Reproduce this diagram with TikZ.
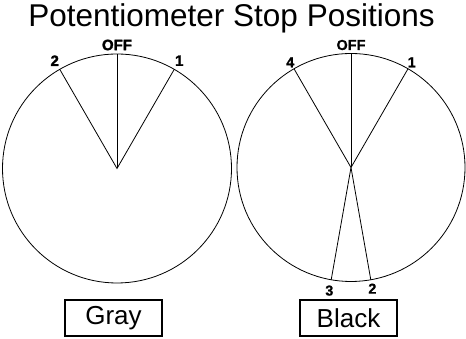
\documentclass[tikz,border=0pt]{standalone}
\usepackage{fontspec}
\setmainfont{Liberation Sans}
\newfontfamily\heavyfont{Liberation Sans Bold}[FakeBold=1.5]
\newfontfamily\semiheavyfont{Liberation Sans Bold}[FakeBold=0.6]
\begin{document}
\begin{tikzpicture}[x=1pt, y=1pt, line width=0.8pt,
    every node/.style={inner sep=0pt},
    stoplabel/.style={font=\fontsize{15}{17}\heavyfont},
    stoplabelb/.style={font=\fontsize{14.5}{17}\semiheavyfont},
    knobname/.style={draw, line width=2pt, minimum width=97pt, minimum height=36pt, font=\fontsize{26}{30}\selectfont}]
        \useasboundingbox (0,0) rectangle (466,339);
        \coordinate (c1) at (117,170.5);
        \coordinate (c2) at (351,171.5);
        \coordinate (g1) at ([shift={(60:114.5)}]c1);
        \coordinate (g0) at ([shift={(90:114.5)}]c1);
        \coordinate (g2) at ([shift={(120:114.5)}]c1);
        \coordinate (b1) at ([shift={(60:114)}]c2);
        \coordinate (b0) at ([shift={(90:114)}]c2);
        \coordinate (b4) at ([shift={(120:114)}]c2);
        \coordinate (b3) at ([shift={(260:114)}]c2);
        \coordinate (b2) at ([shift={(280:114)}]c2);
        \draw (c1) circle (114.5);
        \draw (c2) circle (114);
        \draw (g2)--(c1)--(g1);
        \draw (c1)--(g0);
        \draw (b4)--(c2)--(b1);
        \draw (c2)--(b0);
        \draw (b3)--(c2)--(b2);
        \node (title) [anchor=base, font=\fontsize{31.5}{36}\selectfont] at (231.5,312) {Potentiometer Stop Positions};
        \node[stoplabel] (goff) at ([shift={(90:123.5)}]c1) {OFF};
        \node[stoplabel] (gone) at ([shift={(60:124.5)}]c1) {1};
        \node[stoplabel] (gtwo) at ([shift={(120:124.5)}]c1) {2};
        \node[stoplabelb] (boff) at ([shift={(90:122.5)}]c2) {OFF};
        \node[stoplabelb] (bone) at ([shift={(60:121.5)}]c2) {1};
        \node[stoplabelb] (bfour) at ([shift={(120:121.5)}]c2) {4};
        \node[stoplabelb] (bthree) at ([shift={(260:125)}]c2) {3};
        \node[stoplabelb] (btwo) at ([shift={(280:123)}]c2) {2};
        \node[knobname] (gray) at (113.5,20.5) {Gray};
        \node[knobname] (black) at (348.5,20.5) {Black};
    \end{tikzpicture}
\end{document}
